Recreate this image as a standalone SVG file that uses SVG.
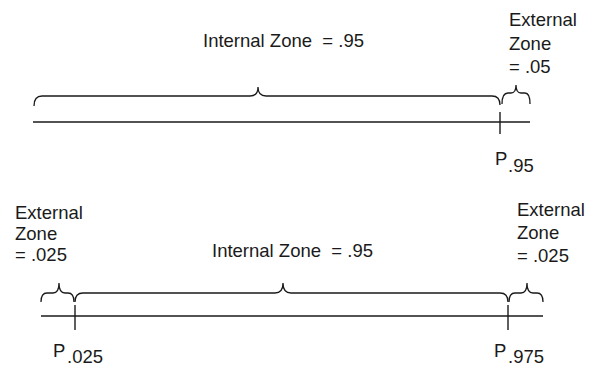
<svg xmlns="http://www.w3.org/2000/svg" width="589" height="368" viewBox="0 0 589 368">
<style>
text{font-family:"Liberation Sans",Arial,sans-serif;font-size:18.5px;fill:#1a1a1a;white-space:pre}
.ln{stroke:#1a1a1a;stroke-width:1.4;fill:none}
.br{stroke:#1a1a1a;stroke-width:1.3;fill:none}
</style>
<rect width="589" height="368" fill="#fff"/>
<g id="connectors">
<line class="ln" x1="33" y1="122" x2="530" y2="122"/>
<line class="ln" x1="500" y1="112" x2="500" y2="134"/>
<line class="ln" x1="41" y1="316" x2="543" y2="316"/>
<line class="ln" x1="75" y1="305" x2="75" y2="330"/>
<line class="ln" x1="508" y1="305" x2="508" y2="330"/>
</g>
<g id="top-internal-brace">
<path class="br" d="M34,106 Q34,96 42,96 L250,96 Q258,96 258,87 Q258,96 266,96 L492,96 Q500,96 500,105"/>
<text x="203" y="47">Internal Zone  = .95</text>
</g>
<g id="top-external-brace">
<path class="br" d="M502,104 Q502,93 508,93 L511,93 Q516,93 516,85 Q516,93 521,93 L525,93 Q530,93 530,104"/>
<text x="509" y="26">External</text>
<text x="509" y="49.5">Zone</text>
<text x="509" y="73">= .05</text>
</g>
<g id="top-p95">
<text x="495" y="165">P</text>
<text x="508" y="172">.95</text>
</g>
<g id="bottom-left-external">
<path class="br" d="M41,302 Q41,293 47,293 L53,293 Q59,293 59,283 Q59,293 65,293 L68,293 Q74,293 74,302"/>
<text x="15" y="219">External</text>
<text x="15" y="240">Zone</text>
<text x="15" y="261">= .025</text>
</g>
<g id="bottom-internal-brace">
<path class="br" d="M75,302 Q75,293 83,293 L275,293 Q283,293 283,283 Q283,293 291,293 L500,293 Q508,293 508,302"/>
<text x="212" y="257">Internal Zone  = .95</text>
</g>
<g id="bottom-right-external">
<path class="br" d="M509,302 Q509,293 515,293 L521,293 Q527,293 527,283 Q527,293 533,293 L537,293 Q543,293 543,302"/>
<text x="517" y="216">External</text>
<text x="517" y="239">Zone</text>
<text x="517" y="262">= .025</text>
</g>
<g id="bottom-p025">
<text x="53" y="357">P</text>
<text x="67" y="363">.025</text>
</g>
<g id="bottom-p975">
<text x="494" y="357">P</text>
<text x="508" y="363">.975</text>
</g>
</svg>
